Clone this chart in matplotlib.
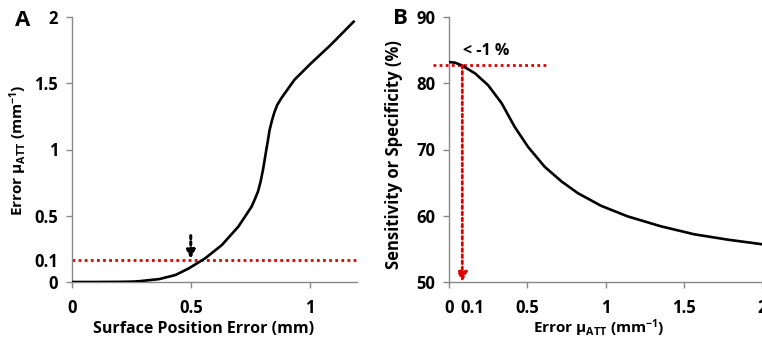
import matplotlib
matplotlib.use("Agg")
import matplotlib.pyplot as plt

# ---- data ----
# Panel A: surface position error (mm) vs error in mu_ATT (mm^-1)
pos_err = [0.0, 0.10, 0.20, 0.257, 0.283, 0.367, 0.436, 0.492, 0.561, 0.631, 0.70,
           0.756, 0.769, 0.783, 0.794, 0.804, 0.811, 0.818, 0.825, 0.832, 0.842,
           0.853, 0.864, 0.881, 0.936, 1.006, 1.089, 1.186]
mu_err = [0.0, 0.0, 0.001, 0.003, 0.006, 0.022, 0.053, 0.103, 0.179, 0.279, 0.417,
          0.568, 0.621, 0.682, 0.757, 0.845, 0.92, 0.996, 1.07, 1.147, 1.22,
          1.285, 1.336, 1.386, 1.525, 1.65, 1.789, 1.965]

# Panel B: error in mu_ATT (mm^-1) vs sensitivity/specificity (%)
mu_err_b = [0.0, 0.04, 0.081, 0.166, 0.25, 0.336, 0.42, 0.505, 0.611, 0.718, 0.824,
            0.972, 1.142, 1.355, 1.567, 1.779, 2.0]
sens = [83.2, 83.1, 82.7, 81.5, 79.7, 77.0, 73.4, 70.4, 67.4, 65.2, 63.4,
        61.5, 59.9, 58.4, 57.2, 56.4, 55.7]

a_xticks = [0, 0.5, 1]
a_xlabels = ["0", "0.5", "1"]
a_yticks = [0, 0.165, 0.5, 1, 1.5, 2]
a_ylabels = ["0", "0.1", "0.5", "1", "1.5", "2"]
b_xticks = [0, 0.15, 0.5, 1, 1.5, 2]
b_xlabels = ["0", "0.1", "0.5", "1", "1.5", "2"]
b_yticks = [50, 60, 70, 80, 90]

A_THRESH_Y = 0.165            # red dotted level in panel A
A_ARROW = (0.5, 0.35, 0.175)  # x, y start, y end
B_LEVEL = 82.7
B_LEVEL_X = (-0.1, 0.62)
B_DROP_X = 0.085

RED = "#E00000"
SPINE = "#888888"
FONT = "Open Sans"

plt.rcParams["font.family"] = [FONT, "DejaVu Sans"]
plt.rcParams["font.weight"] = "bold"
plt.rcParams["mathtext.fontset"] = "custom"
plt.rcParams["mathtext.rm"] = FONT + ":bold"
plt.rcParams["mathtext.it"] = FONT + ":bold"
plt.rcParams["mathtext.bf"] = FONT + ":bold"
plt.rcParams["axes.unicode_minus"] = False

fig = plt.figure(figsize=(7.62, 3.39), dpi=100)
W, H = 762, 339
axA = fig.add_axes([72 / W, 57 / H, 285 / W, 265 / H])
axB = fig.add_axes([449 / W, 57 / H, 313 / W, 265 / H])


def style(ax):
    for s in ("top", "right"):
        ax.spines[s].set_visible(False)
    for s in ("left", "bottom"):
        ax.spines[s].set_color(SPINE)
        ax.spines[s].set_linewidth(1.0)
    ax.tick_params(axis="both", colors=SPINE, labelcolor="black",
                   labelsize=12, length=4, width=1)
    ax.tick_params(axis="x", pad=8)
    ax.tick_params(axis="y", pad=6)
    for t in ax.get_xticklabels() + ax.get_yticklabels():
        t.set_fontweight("bold")


# ===== Panel A =====
axA.plot(pos_err, mu_err, color="black", lw=1.9, zorder=3)
axA.axhline(A_THRESH_Y, color=RED, lw=2, ls=(0, (1, 1.2)), zorder=2)
axA.annotate("", xy=(A_ARROW[0], A_ARROW[2]), xytext=(A_ARROW[0], A_ARROW[1]),
             arrowprops=dict(arrowstyle="-|>", color="black", lw=2.2,
                             linestyle=(0, (1, 1)), mutation_scale=12,
                             shrinkA=0, shrinkB=0))
axA.set_xlim(0, 1.2)
axA.set_ylim(0, 2)
axA.set_xticks(a_xticks, a_xlabels)
axA.set_yticks(a_yticks, a_ylabels)
axA.set_xlabel("Surface Position Error (mm)", fontsize=11.5, fontweight="bold")
axA.set_ylabel(r"Error µ$_{\mathrm{ATT}}$ (mm$^{\mathrm{-1}}$)", fontsize=11,
               fontweight="bold")
axA.xaxis.set_label_coords(0.46, -0.147)
axA.yaxis.set_label_coords(-0.151, 0.496)
style(axA)
axA.yaxis.get_major_ticks()[1].tick1line.set_visible(False)
fig.text(15 / W, 1 - 21 / H, "A", fontsize=16, fontweight="bold", va="center")

# ===== Panel B =====
axB.plot(mu_err_b, sens, color="black", lw=1.9, zorder=3)
axB.plot(B_LEVEL_X, [B_LEVEL, B_LEVEL], color=RED, lw=2, ls=(0, (1, 1.2)),
         clip_on=False, zorder=2)
axB.annotate("", xy=(B_DROP_X, 50), xytext=(B_DROP_X, B_LEVEL),
             arrowprops=dict(arrowstyle="-|>", color=RED, lw=2,
                             linestyle=(0, (1, 1.2)), mutation_scale=14,
                             shrinkA=0, shrinkB=0))
axB.text(0.09, 84.8, "< -1 %", fontsize=11.5, fontweight="bold", va="center", ha="left")
axB.set_xlim(0, 2)
axB.set_ylim(50, 90)
axB.set_xticks(b_xticks, b_xlabels)
axB.set_yticks(b_yticks)
axB.set_xlabel(r"Error µ$_{\mathrm{ATT}}$ (mm$^{\mathrm{-1}}$)", fontsize=11,
               fontweight="bold")
axB.set_ylabel("Sensitivity or Specificity (%)", fontsize=12, fontweight="bold")
axB.xaxis.set_label_coords(0.479, -0.132)
axB.yaxis.set_label_coords(-0.147, 0.48)
style(axB)
axB.xaxis.get_major_ticks()[1].tick1line.set_visible(False)
fig.text(393 / W, 1 - 19 / H, "B", fontsize=16, fontweight="bold", va="center")

fig.savefig("out.png", dpi=100)
